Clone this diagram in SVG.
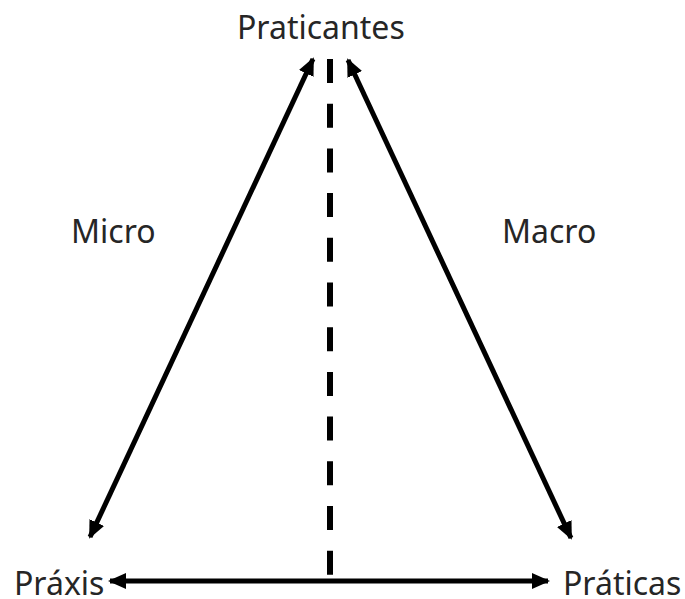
<svg xmlns="http://www.w3.org/2000/svg" width="685" height="599" viewBox="0 0 685 599">
<style>
.lbl{font-family:"Noto Sans","Open Sans",sans-serif;font-size:32px;fill:#262626}
.ln{stroke:#000;stroke-width:5;fill:none}
.dash{stroke:#000;stroke-width:6;fill:none;stroke-dasharray:24 20.7}
</style>
<defs>
<marker id="ah" viewBox="0 0 18 18" refX="16" refY="9" markerWidth="18" markerHeight="18" markerUnits="userSpaceOnUse" orient="auto-start-reverse">
<path d="M0,1 L18,9 L0,17 Z" fill="#000"/>
</marker>
</defs>
<rect width="685" height="599" fill="#fff"/>
<g id="connectors">
<line class="dash" x1="330" y1="59" x2="330" y2="578"/>
<line class="ln" x1="313" y1="59" x2="90" y2="537" marker-start="url(#ah)" marker-end="url(#ah)"/>
<line class="ln" x1="348" y1="60" x2="571" y2="538" marker-start="url(#ah)" marker-end="url(#ah)"/>
<line class="ln" x1="110" y1="581" x2="548" y2="581" marker-start="url(#ah)" marker-end="url(#ah)"/>
</g>
<g id="praticantes"><text class="lbl" x="237" y="39">Praticantes</text></g>
<g id="micro"><text class="lbl" x="71" y="243">Micro</text></g>
<g id="macro"><text class="lbl" x="502" y="243">Macro</text></g>
<g id="praxis"><text class="lbl" x="14" y="595">Práxis</text></g>
<g id="praticas"><text class="lbl" x="563" y="595">Práticas</text></g>
</svg>
